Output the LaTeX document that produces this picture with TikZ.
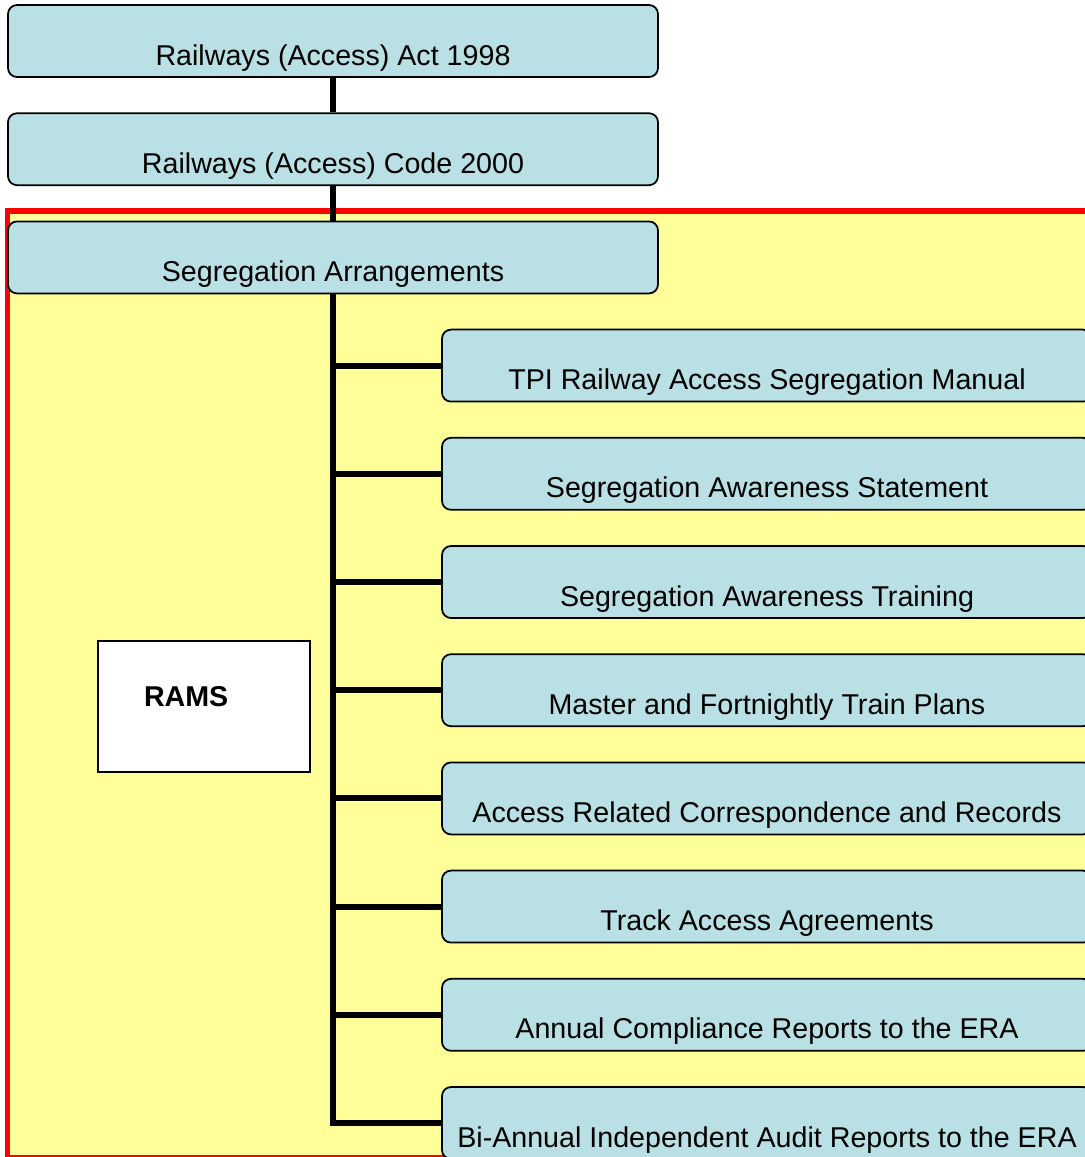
\documentclass[tikz,border=0pt]{standalone}
\usepackage{fontspec}
\setmainfont{Liberation Sans}
\definecolor{boxblue}{RGB}{185,224,228}
\definecolor{paleyellow}{RGB}{255,255,153}
\begin{document}
\begin{tikzpicture}[font=\fontsize{16.3}{19}\selectfont,box/.style={draw=black, line width=1pt, fill=boxblue, rounded corners=0.18cm, inner sep=0pt, minimum width=13cm, text height=1.2cm, text depth=0.24cm, align=center},rams/.style={draw=black, line width=1pt, fill=white, inner sep=0pt, text width=4.24cm, text height=1.3cm, text depth=1.32cm, align=left, font=\fontsize{16.3}{19}\selectfont\bfseries},link/.style={line width=3.4pt}]
\useasboundingbox (0,0) rectangle (21.7,-23.14);
\draw[red, line width=0.11cm, fill=paleyellow] (0.15,-4.22) rectangle (22.2,-23.16);
\node[box] (act) at (6.66,-0.82) {Railways (Access) Act 1998};
\node[box] (code) at (6.66,-2.984) {Railways (Access) Code 2000};
\node[box] (seg) at (6.66,-5.148) {Segregation Arrangements};
\node[box] (r1) at (15.34,-7.312) {TPI Railway Access Segregation Manual};
\node[box] (r2) at (15.34,-9.476) {Segregation Awareness Statement};
\node[box] (r3) at (15.34,-11.64) {Segregation Awareness Training};
\node[box] (r4) at (15.34,-13.804) {Master and Fortnightly Train Plans};
\node[box] (r5) at (15.34,-15.968) {Access Related Correspondence and Records};
\node[box] (r6) at (15.34,-18.132) {Track Access Agreements};
\node[box] (r7) at (15.34,-20.296) {Annual Compliance Reports to the ERA};
\node[box] (r8) at (15.34,-22.46) {Bi-Annual Independent Audit Reports to the ERA};
\node[rams] (ramsbox) at (4.08,-14.13) {\hspace*{0.92cm}RAMS};
\draw[link] (act.south) -- (code.north);
\draw[link] (code.south) -- (seg.north);
\draw[link] (seg.south) -- (seg.south |- r8.west) -- (r8.west);
\draw[link] (seg.south |- r1.west) -- (r1.west);
\draw[link] (seg.south |- r2.west) -- (r2.west);
\draw[link] (seg.south |- r3.west) -- (r3.west);
\draw[link] (seg.south |- r4.west) -- (r4.west);
\draw[link] (seg.south |- r5.west) -- (r5.west);
\draw[link] (seg.south |- r6.west) -- (r6.west);
\draw[link] (seg.south |- r7.west) -- (r7.west);
\end{tikzpicture}
\end{document}
